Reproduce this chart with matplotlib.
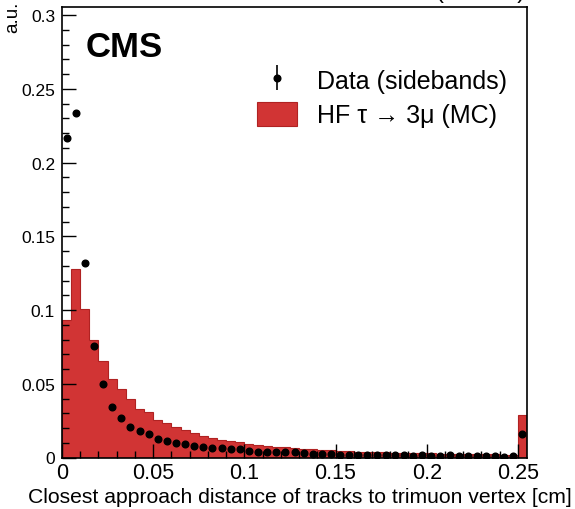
import numpy as np
import matplotlib
matplotlib.use("Agg")
import matplotlib.pyplot as plt
from matplotlib.ticker import MultipleLocator, FixedFormatter, FixedLocator

plt.rcParams['font.family'] = ['Liberation Sans', 'DejaVu Sans']

# ---- data ----
bin_width = 0.005
n_bins = 51
mc_values = [0.093, 0.128, 0.101, 0.080, 0.0655, 0.0535, 0.0466, 0.0397, 0.0329, 0.0306,
             0.0257, 0.0234, 0.0207, 0.0189, 0.0167, 0.0149, 0.0133, 0.0117, 0.0110, 0.0103,
             0.0092, 0.0083, 0.0079, 0.0074, 0.0072, 0.0066, 0.0061, 0.0056, 0.0052, 0.0049,
             0.0047, 0.0043, 0.0040, 0.0038, 0.0037, 0.0035, 0.0033, 0.0032, 0.0030, 0.0029,
             0.0028, 0.0027, 0.0026, 0.0025, 0.0024, 0.0023, 0.0022, 0.0021, 0.0020, 0.0019,
             0.0290]
data_values = [0.217, 0.234, 0.132, 0.0757, 0.0498, 0.0340, 0.0266, 0.0205, 0.0182, 0.0162,
               0.0128, 0.0115, 0.0099, 0.0093, 0.0078, 0.0070, 0.0066, 0.0063, 0.0056, 0.0056,
               0.0047, 0.0039, 0.0036, 0.0036, 0.0034, 0.0036, 0.0029, 0.0025, 0.0027, 0.0022,
               0.0020, 0.0020, 0.0019, 0.0019, 0.0016, 0.0017, 0.0014, 0.0014, 0.0009, 0.0014,
               0.0011, 0.0009, 0.0014, 0.0009, 0.0009, 0.0009, 0.0007, 0.0007, 0.0005, 0.0007,
               0.0162]
x_ticks = [0, 0.05, 0.1, 0.15, 0.2, 0.25]
x_tick_labels = ["0", "0.05", "0.1", "0.15", "0.2", "0.25"]
y_ticks = [0, 0.05, 0.1, 0.15, 0.2, 0.25, 0.3]
y_tick_labels = ["0", "0.05", "0.1", "0.15", "0.2", "0.25", "0.3"]
label_data = "Data (sidebands)"
label_mc = "HF τ → 3μ (MC)"

edges = np.arange(n_bins + 1) * bin_width
centers = 0.5 * (edges[:-1] + edges[1:])

W, H = 575, 510
fig = plt.figure(figsize=(W / 100, H / 100), dpi=100)
ax = fig.add_axes([62 / W, 1 - 458.5 / H, (527 - 62) / W, (458.5 - 8) / H])

ax.hist(centers, bins=edges, weights=mc_values, histtype='stepfilled',
        facecolor='#d13434', edgecolor='#b02222', linewidth=0.8, label=label_mc, zorder=1)
ax.errorbar(centers, data_values, yerr=np.zeros(len(data_values)), fmt='o', color='black',
            markersize=4.8, elinewidth=1.2, capsize=0, label=label_data, zorder=3)

ax.set_xlim(0, 0.255)
ax.set_ylim(0, 0.3056)

ax.xaxis.set_major_locator(FixedLocator(x_ticks))
ax.xaxis.set_major_formatter(FixedFormatter(x_tick_labels))
ax.xaxis.set_minor_locator(MultipleLocator(0.01))
ax.yaxis.set_major_locator(FixedLocator(y_ticks))
ax.yaxis.set_major_formatter(FixedFormatter(y_tick_labels))
ax.yaxis.set_minor_locator(MultipleLocator(0.01))

ax.tick_params(which='both', direction='in', top=False, right=False, colors='black')
ax.tick_params(which='major', length=10, width=1.0)
ax.tick_params(which='minor', length=5, width=1.0)
ax.tick_params(axis='x', which='major', labelsize=15.5, pad=3)
ax.tick_params(axis='y', which='major', labelsize=12.5, pad=5)
for s in ax.spines.values():
    s.set_linewidth(1.2)
    s.set_zorder(5)

fig.text(12.5 / W, 1 - 2 / H, "a.u.", rotation=90, ha='center', va='top', fontsize=13.5)
fig.text(572 / W, 1 - 503 / H, "Closest approach distance of tracks to trimuon vertex [cm]",
         ha='right', va='baseline', fontsize=15.2)
fig.text(86 / W, 1 - 31 / H, "CMS", ha='left', va='top', fontsize=25, fontweight='bold')
fig.text(525 / W, 1 + 2 / H, "(13 TeV)", ha='right', va='baseline', fontsize=17)

handles, labels = ax.get_legend_handles_labels()
order = [labels.index(label_data), labels.index(label_mc)]
leg = ax.legend([handles[i] for i in order], [labels[i] for i in order],
                loc='upper left', bbox_to_anchor=(257 / W, 1 - 68.5 / H),
                bbox_transform=fig.transFigure, frameon=False, fontsize=18,
                borderpad=0, borderaxespad=0, handlelength=1.6, handleheight=1.08,
                handletextpad=0.8, labelspacing=0.36)

fig.savefig("out.png", dpi=100)
